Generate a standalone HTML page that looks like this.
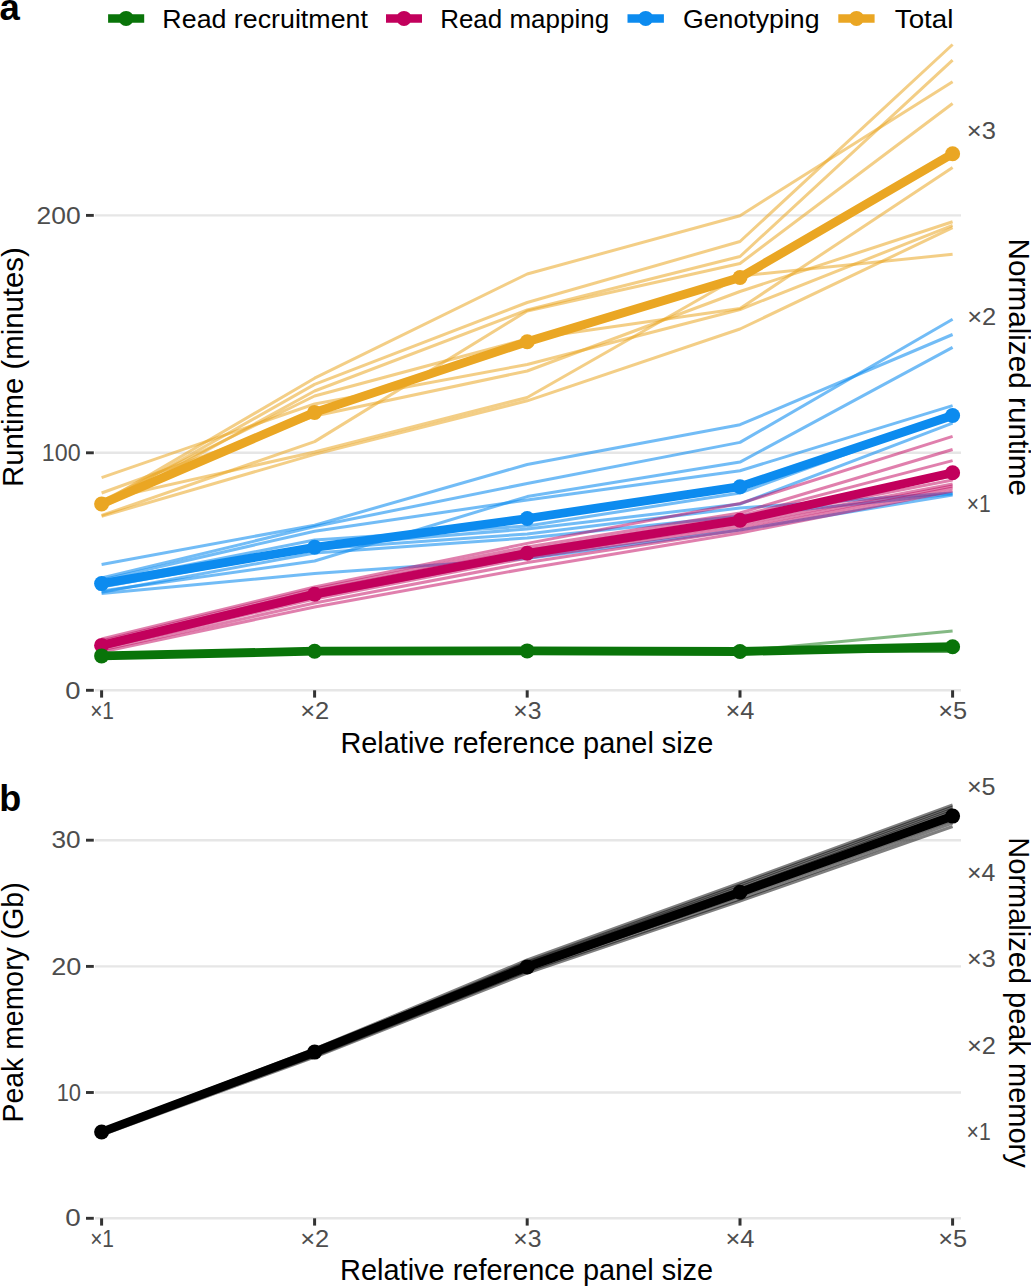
<!DOCTYPE html>
<html><head><meta charset="utf-8"><title>Runtime and memory</title>
<style>html,body{margin:0;padding:0;background:#fff;}svg{display:block;}text{font-family:"Liberation Sans",sans-serif;}</style>
</head><body>
<svg width="1031" height="1286" viewBox="0 0 1031 1286">
<rect width="1031" height="1286" fill="#FFFFFF"/>
<text x="-0.5" y="20.3" font-size="36.5" font-weight="bold" font-family="Liberation Sans, sans-serif">a</text>
<text x="-0.75" y="811.3" font-size="36" font-weight="bold" font-family="Liberation Sans, sans-serif">b</text>
<line x1="108.1" y1="18.4" x2="144.2" y2="18.4" stroke="#097409" stroke-width="8.5"/><circle cx="126.1" cy="18.4" r="7.5" fill="#097409"/><text x="162.39" y="27.60" font-size="26.5" fill="#000000" font-family="Liberation Sans, sans-serif" textLength="205.52" lengthAdjust="spacingAndGlyphs">Read recruitment</text>
<line x1="386.0" y1="18.4" x2="422.0" y2="18.4" stroke="#C2005C" stroke-width="8.5"/><circle cx="404.0" cy="18.4" r="7.5" fill="#C2005C"/><text x="440.16" y="27.60" font-size="26.5" fill="#000000" font-family="Liberation Sans, sans-serif" textLength="168.92" lengthAdjust="spacingAndGlyphs">Read mapping</text>
<line x1="627.5" y1="18.4" x2="663.9" y2="18.4" stroke="#0C8BEF" stroke-width="8.5"/><circle cx="645.7" cy="18.4" r="7.5" fill="#0C8BEF"/><text x="682.96" y="27.60" font-size="26.5" fill="#000000" font-family="Liberation Sans, sans-serif" textLength="136.60" lengthAdjust="spacingAndGlyphs">Genotyping</text>
<line x1="838.3" y1="18.4" x2="874.6" y2="18.4" stroke="#EAA623" stroke-width="8.5"/><circle cx="856.5" cy="18.4" r="7.5" fill="#EAA623"/><text x="894.78" y="27.60" font-size="26.5" fill="#000000" font-family="Liberation Sans, sans-serif" textLength="58.59" lengthAdjust="spacingAndGlyphs">Total</text>
<line x1="95" y1="215.4" x2="961" y2="215.4" stroke="#E6E6E6" stroke-width="2.4"/>
<line x1="86" y1="215.4" x2="93.8" y2="215.4" stroke="#333333" stroke-width="2.9"/>
<line x1="95" y1="452.8" x2="961" y2="452.8" stroke="#E6E6E6" stroke-width="2.4"/>
<line x1="86" y1="452.8" x2="93.8" y2="452.8" stroke="#333333" stroke-width="2.9"/>
<line x1="95" y1="690.3" x2="961" y2="690.3" stroke="#E6E6E6" stroke-width="2.4"/>
<line x1="86" y1="690.3" x2="93.8" y2="690.3" stroke="#333333" stroke-width="2.9"/>
<text x="36.48" y="223.70" fill="#4D4D4D" font-size="23.4" font-family="Liberation Sans, sans-serif" textLength="44.14" lengthAdjust="spacingAndGlyphs">200</text>
<text x="41.86" y="460.80" fill="#4D4D4D" font-size="23.4" font-family="Liberation Sans, sans-serif" textLength="38.73" lengthAdjust="spacingAndGlyphs">100</text>
<text x="65.30" y="698.50" fill="#4D4D4D" font-size="23.4" font-family="Liberation Sans, sans-serif" textLength="15.26" lengthAdjust="spacingAndGlyphs">0</text>
<line x1="101.6" y1="690.3" x2="101.6" y2="697.6" stroke="#333333" stroke-width="3"/><line x1="314.6" y1="690.3" x2="314.6" y2="697.6" stroke="#333333" stroke-width="3"/><line x1="527.2" y1="690.3" x2="527.2" y2="697.6" stroke="#333333" stroke-width="3"/><line x1="740.0" y1="690.3" x2="740.0" y2="697.6" stroke="#333333" stroke-width="3"/><line x1="952.6" y1="690.3" x2="952.6" y2="697.6" stroke="#333333" stroke-width="3"/>
<text x="90.13" y="719.40" fill="#4D4D4D" font-size="23.4" font-family="Liberation Sans, sans-serif" textLength="23.86" lengthAdjust="spacingAndGlyphs">×1</text><text x="300.22" y="719.40" fill="#4D4D4D" font-size="23.4" font-family="Liberation Sans, sans-serif" textLength="29.06" lengthAdjust="spacingAndGlyphs">×2</text><text x="513.27" y="719.40" fill="#4D4D4D" font-size="23.4" font-family="Liberation Sans, sans-serif" textLength="28.19" lengthAdjust="spacingAndGlyphs">×3</text><text x="725.42" y="719.40" fill="#4D4D4D" font-size="23.4" font-family="Liberation Sans, sans-serif" textLength="28.98" lengthAdjust="spacingAndGlyphs">×4</text><text x="938.23" y="719.40" fill="#4D4D4D" font-size="23.4" font-family="Liberation Sans, sans-serif" textLength="28.89" lengthAdjust="spacingAndGlyphs">×5</text>
<text x="340.41" y="752.90" font-size="29.2" fill="#000000" font-family="Liberation Sans, sans-serif" textLength="372.85" lengthAdjust="spacingAndGlyphs">Relative reference panel size</text>
<text transform="translate(23.30,487.02) rotate(-90)" x="0" y="0" font-size="29.2" fill="#000000" font-family="Liberation Sans, sans-serif" textLength="239.81" lengthAdjust="spacingAndGlyphs">Runtime (minutes)</text>
<text transform="translate(1009.20,238.55) rotate(90)" x="0" y="0" font-size="29.2" fill="#000000" font-family="Liberation Sans, sans-serif" textLength="257.48" lengthAdjust="spacingAndGlyphs">Normalized runtime</text>
<text x="966.82" y="138.50" fill="#4D4D4D" font-size="23.4" font-family="Liberation Sans, sans-serif" textLength="29.07" lengthAdjust="spacingAndGlyphs">×3</text>
<text x="967.22" y="325.20" fill="#4D4D4D" font-size="23.4" font-family="Liberation Sans, sans-serif" textLength="29.06" lengthAdjust="spacingAndGlyphs">×2</text>
<text x="966.63" y="512.00" fill="#4D4D4D" font-size="23.4" font-family="Liberation Sans, sans-serif" textLength="23.97" lengthAdjust="spacingAndGlyphs">×1</text>
<polyline points="101.6,503.0 314.6,378.2 527.2,274.0 740.0,215.7 952.6,81.8" fill="none" stroke="#EAA623" stroke-width="3.0" stroke-opacity="0.55" stroke-linejoin="round"/>
<polyline points="101.6,505.0 314.6,384.4 527.2,302.5 740.0,241.5 952.6,44.5" fill="none" stroke="#EAA623" stroke-width="3.0" stroke-opacity="0.55" stroke-linejoin="round"/>
<polyline points="101.6,508.0 314.6,391.0 527.2,310.0 740.0,256.5 952.6,60.1" fill="none" stroke="#EAA623" stroke-width="3.0" stroke-opacity="0.55" stroke-linejoin="round"/>
<polyline points="101.6,515.4 314.6,441.6 527.2,311.0 740.0,263.5 952.6,103.5" fill="none" stroke="#EAA623" stroke-width="3.0" stroke-opacity="0.55" stroke-linejoin="round"/>
<polyline points="101.6,500.0 314.6,452.0 527.2,397.5 740.0,276.0 952.6,254.3" fill="none" stroke="#EAA623" stroke-width="3.0" stroke-opacity="0.55" stroke-linejoin="round"/>
<polyline points="101.6,501.0 314.6,396.0 527.2,339.0 740.0,308.5 952.6,167.5" fill="none" stroke="#EAA623" stroke-width="3.0" stroke-opacity="0.55" stroke-linejoin="round"/>
<polyline points="101.6,493.0 314.6,416.0 527.2,371.0 740.0,291.5 952.6,221.7" fill="none" stroke="#EAA623" stroke-width="3.0" stroke-opacity="0.55" stroke-linejoin="round"/>
<polyline points="101.6,477.6 314.6,404.0 527.2,364.5 740.0,309.5 952.6,225.3" fill="none" stroke="#EAA623" stroke-width="3.0" stroke-opacity="0.55" stroke-linejoin="round"/>
<polyline points="101.6,516.3 314.6,454.4 527.2,400.8 740.0,329.0 952.6,227.7" fill="none" stroke="#EAA623" stroke-width="3.0" stroke-opacity="0.55" stroke-linejoin="round"/>
<polyline points="101.6,564.5 314.6,525.2 527.2,464.5 740.0,424.7 952.6,334.5" fill="none" stroke="#0C8BEF" stroke-width="3.0" stroke-opacity="0.58" stroke-linejoin="round"/>
<polyline points="101.6,578.0 314.6,526.5 527.2,483.5 740.0,442.4 952.6,319.3" fill="none" stroke="#0C8BEF" stroke-width="3.0" stroke-opacity="0.58" stroke-linejoin="round"/>
<polyline points="101.6,580.0 314.6,531.2 527.2,500.0 740.0,470.7 952.6,405.6" fill="none" stroke="#0C8BEF" stroke-width="3.0" stroke-opacity="0.58" stroke-linejoin="round"/>
<polyline points="101.6,591.0 314.6,561.0 527.2,496.6 740.0,462.1 952.6,347.4" fill="none" stroke="#0C8BEF" stroke-width="3.0" stroke-opacity="0.58" stroke-linejoin="round"/>
<polyline points="101.6,582.0 314.6,540.0 527.2,526.0 740.0,493.0 952.6,415.0" fill="none" stroke="#0C8BEF" stroke-width="3.0" stroke-opacity="0.58" stroke-linejoin="round"/>
<polyline points="101.6,584.0 314.6,546.0 527.2,529.0 740.0,504.0 952.6,423.2" fill="none" stroke="#0C8BEF" stroke-width="3.0" stroke-opacity="0.58" stroke-linejoin="round"/>
<polyline points="101.6,587.0 314.6,549.0 527.2,534.0 740.0,508.0 952.6,493.0" fill="none" stroke="#0C8BEF" stroke-width="3.0" stroke-opacity="0.58" stroke-linejoin="round"/>
<polyline points="101.6,592.3 314.6,553.0 527.2,538.0 740.0,516.0 952.6,494.0" fill="none" stroke="#0C8BEF" stroke-width="3.0" stroke-opacity="0.58" stroke-linejoin="round"/>
<polyline points="101.6,593.5 314.6,573.5 527.2,558.6 740.0,530.0 952.6,495.0" fill="none" stroke="#0C8BEF" stroke-width="3.0" stroke-opacity="0.58" stroke-linejoin="round"/>
<polyline points="101.6,639.0 314.6,587.0 527.2,543.4 740.0,503.5 952.6,436.4" fill="none" stroke="#C2005C" stroke-width="3.0" stroke-opacity="0.5" stroke-linejoin="round"/>
<polyline points="101.6,641.0 314.6,589.0 527.2,547.0 740.0,513.0 952.6,449.5" fill="none" stroke="#C2005C" stroke-width="3.0" stroke-opacity="0.5" stroke-linejoin="round"/>
<polyline points="101.6,643.0 314.6,591.0 527.2,550.0 740.0,516.0 952.6,460.6" fill="none" stroke="#C2005C" stroke-width="3.0" stroke-opacity="0.5" stroke-linejoin="round"/>
<polyline points="101.6,645.0 314.6,593.0 527.2,552.0 740.0,518.0 952.6,476.0" fill="none" stroke="#C2005C" stroke-width="3.0" stroke-opacity="0.5" stroke-linejoin="round"/>
<polyline points="101.6,646.0 314.6,595.0 527.2,554.0 740.0,521.0 952.6,480.0" fill="none" stroke="#C2005C" stroke-width="3.0" stroke-opacity="0.5" stroke-linejoin="round"/>
<polyline points="101.6,647.0 314.6,597.0 527.2,556.0 740.0,524.0 952.6,484.0" fill="none" stroke="#C2005C" stroke-width="3.0" stroke-opacity="0.5" stroke-linejoin="round"/>
<polyline points="101.6,648.0 314.6,599.0 527.2,558.0 740.0,527.0 952.6,486.0" fill="none" stroke="#C2005C" stroke-width="3.0" stroke-opacity="0.5" stroke-linejoin="round"/>
<polyline points="101.6,650.0 314.6,603.0 527.2,562.6 740.0,530.0 952.6,488.0" fill="none" stroke="#C2005C" stroke-width="3.0" stroke-opacity="0.5" stroke-linejoin="round"/>
<polyline points="101.6,652.0 314.6,607.0 527.2,568.4 740.0,533.0 952.6,491.0" fill="none" stroke="#C2005C" stroke-width="3.0" stroke-opacity="0.5" stroke-linejoin="round"/>
<polyline points="101.6,654.8 314.6,650.3 527.2,650.0 740.0,650.6 952.6,645.5" fill="none" stroke="#097409" stroke-width="3.0" stroke-opacity="0.5" stroke-linejoin="round"/>
<polyline points="101.6,655.3 314.6,650.8 527.2,650.5 740.0,651.0 952.6,646.5" fill="none" stroke="#097409" stroke-width="3.0" stroke-opacity="0.5" stroke-linejoin="round"/>
<polyline points="101.6,655.8 314.6,651.2 527.2,651.0 740.0,651.4 952.6,647.5" fill="none" stroke="#097409" stroke-width="3.0" stroke-opacity="0.5" stroke-linejoin="round"/>
<polyline points="101.6,656.3 314.6,651.6 527.2,651.3 740.0,651.8 952.6,648.5" fill="none" stroke="#097409" stroke-width="3.0" stroke-opacity="0.5" stroke-linejoin="round"/>
<polyline points="101.6,656.8 314.6,652.0 527.2,651.6 740.0,652.2 952.6,649.5" fill="none" stroke="#097409" stroke-width="3.0" stroke-opacity="0.5" stroke-linejoin="round"/>
<polyline points="101.6,655.6 314.6,651.0 527.2,650.7 740.0,651.2 952.6,650.5" fill="none" stroke="#097409" stroke-width="3.0" stroke-opacity="0.5" stroke-linejoin="round"/>
<polyline points="101.6,656.1 314.6,651.5 527.2,651.2 740.0,651.6 952.6,651.0" fill="none" stroke="#097409" stroke-width="3.0" stroke-opacity="0.5" stroke-linejoin="round"/>
<polyline points="101.6,655.0 314.6,650.6 527.2,650.4 740.0,651.4 952.6,651.5" fill="none" stroke="#097409" stroke-width="3.0" stroke-opacity="0.5" stroke-linejoin="round"/>
<polyline points="101.6,656.0 314.6,651.0 527.2,651.0 740.0,651.0 952.6,631.1" fill="none" stroke="#097409" stroke-width="3.0" stroke-opacity="0.5" stroke-linejoin="round"/>
<polyline points="101.6,504.0 314.6,412.4 527.2,341.7 740.0,277.5 952.6,153.8" fill="none" stroke="#EAA623" stroke-width="8.8" stroke-linejoin="round"/>
<circle cx="101.6" cy="504.0" r="7.5" fill="#EAA623"/>
<circle cx="314.6" cy="412.4" r="7.5" fill="#EAA623"/>
<circle cx="527.2" cy="341.7" r="7.5" fill="#EAA623"/>
<circle cx="740.0" cy="277.5" r="7.5" fill="#EAA623"/>
<circle cx="952.6" cy="153.8" r="7.5" fill="#EAA623"/>
<polyline points="101.6,583.6 314.6,547.3 527.2,518.5 740.0,486.7 952.6,415.5" fill="none" stroke="#0C8BEF" stroke-width="8.8" stroke-linejoin="round"/>
<circle cx="101.6" cy="583.6" r="7.5" fill="#0C8BEF"/>
<circle cx="314.6" cy="547.3" r="7.5" fill="#0C8BEF"/>
<circle cx="527.2" cy="518.5" r="7.5" fill="#0C8BEF"/>
<circle cx="740.0" cy="486.7" r="7.5" fill="#0C8BEF"/>
<circle cx="952.6" cy="415.5" r="7.5" fill="#0C8BEF"/>
<polyline points="101.6,645.4 314.6,594.2 527.2,553.3 740.0,520.2 952.6,472.7" fill="none" stroke="#C2005C" stroke-width="8.8" stroke-linejoin="round"/>
<circle cx="101.6" cy="645.4" r="7.5" fill="#C2005C"/>
<circle cx="314.6" cy="594.2" r="7.5" fill="#C2005C"/>
<circle cx="527.2" cy="553.3" r="7.5" fill="#C2005C"/>
<circle cx="740.0" cy="520.2" r="7.5" fill="#C2005C"/>
<circle cx="952.6" cy="472.7" r="7.5" fill="#C2005C"/>
<polyline points="101.6,655.9 314.6,651.2 527.2,650.9 740.0,651.5 952.6,646.7" fill="none" stroke="#097409" stroke-width="8.8" stroke-linejoin="round"/>
<circle cx="101.6" cy="655.9" r="7.5" fill="#097409"/>
<circle cx="314.6" cy="651.2" r="7.5" fill="#097409"/>
<circle cx="527.2" cy="650.9" r="7.5" fill="#097409"/>
<circle cx="740.0" cy="651.5" r="7.5" fill="#097409"/>
<circle cx="952.6" cy="646.7" r="7.5" fill="#097409"/>
<line x1="95" y1="840.2" x2="961" y2="840.2" stroke="#E6E6E6" stroke-width="2.4"/>
<line x1="86" y1="840.2" x2="93.8" y2="840.2" stroke="#333333" stroke-width="2.9"/>
<line x1="95" y1="966.4" x2="961" y2="966.4" stroke="#E6E6E6" stroke-width="2.4"/>
<line x1="86" y1="966.4" x2="93.8" y2="966.4" stroke="#333333" stroke-width="2.9"/>
<line x1="95" y1="1092.5" x2="961" y2="1092.5" stroke="#E6E6E6" stroke-width="2.4"/>
<line x1="86" y1="1092.5" x2="93.8" y2="1092.5" stroke="#333333" stroke-width="2.9"/>
<line x1="95" y1="1218.3" x2="961" y2="1218.3" stroke="#E6E6E6" stroke-width="2.4"/>
<line x1="86" y1="1218.3" x2="93.8" y2="1218.3" stroke="#333333" stroke-width="2.9"/>
<text x="51.42" y="848.40" fill="#4D4D4D" font-size="23.4" font-family="Liberation Sans, sans-serif" textLength="29.12" lengthAdjust="spacingAndGlyphs">30</text>
<text x="51.15" y="974.50" fill="#4D4D4D" font-size="23.4" font-family="Liberation Sans, sans-serif" textLength="30.13" lengthAdjust="spacingAndGlyphs">20</text>
<text x="56.65" y="1100.50" fill="#4D4D4D" font-size="23.4" font-family="Liberation Sans, sans-serif" textLength="24.42" lengthAdjust="spacingAndGlyphs">10</text>
<text x="65.29" y="1226.10" fill="#4D4D4D" font-size="23.4" font-family="Liberation Sans, sans-serif" textLength="15.49" lengthAdjust="spacingAndGlyphs">0</text>
<line x1="101.6" y1="1218.3" x2="101.6" y2="1225.6" stroke="#333333" stroke-width="3"/><line x1="314.6" y1="1218.3" x2="314.6" y2="1225.6" stroke="#333333" stroke-width="3"/><line x1="527.2" y1="1218.3" x2="527.2" y2="1225.6" stroke="#333333" stroke-width="3"/><line x1="740.0" y1="1218.3" x2="740.0" y2="1225.6" stroke="#333333" stroke-width="3"/><line x1="952.6" y1="1218.3" x2="952.6" y2="1225.6" stroke="#333333" stroke-width="3"/>
<text x="90.13" y="1246.80" fill="#4D4D4D" font-size="23.4" font-family="Liberation Sans, sans-serif" textLength="23.86" lengthAdjust="spacingAndGlyphs">×1</text><text x="300.22" y="1246.80" fill="#4D4D4D" font-size="23.4" font-family="Liberation Sans, sans-serif" textLength="29.06" lengthAdjust="spacingAndGlyphs">×2</text><text x="513.27" y="1246.80" fill="#4D4D4D" font-size="23.4" font-family="Liberation Sans, sans-serif" textLength="28.19" lengthAdjust="spacingAndGlyphs">×3</text><text x="725.42" y="1246.80" fill="#4D4D4D" font-size="23.4" font-family="Liberation Sans, sans-serif" textLength="28.98" lengthAdjust="spacingAndGlyphs">×4</text><text x="938.23" y="1246.80" fill="#4D4D4D" font-size="23.4" font-family="Liberation Sans, sans-serif" textLength="28.89" lengthAdjust="spacingAndGlyphs">×5</text>
<text x="340.11" y="1280.00" font-size="29.2" fill="#000000" font-family="Liberation Sans, sans-serif" textLength="373.06" lengthAdjust="spacingAndGlyphs">Relative reference panel size</text>
<text transform="translate(23.30,1122.55) rotate(-90)" x="0" y="0" font-size="29.2" fill="#000000" font-family="Liberation Sans, sans-serif" textLength="240.16" lengthAdjust="spacingAndGlyphs">Peak memory (Gb)</text>
<text transform="translate(1009.30,837.31) rotate(90)" x="0" y="0" font-size="29.2" fill="#000000" font-family="Liberation Sans, sans-serif" textLength="330.48" lengthAdjust="spacingAndGlyphs">Normalized peak memory</text>
<text x="966.94" y="795.00" fill="#4D4D4D" font-size="23.4" font-family="Liberation Sans, sans-serif" textLength="28.67" lengthAdjust="spacingAndGlyphs">×5</text>
<text x="966.96" y="881.20" fill="#4D4D4D" font-size="23.4" font-family="Liberation Sans, sans-serif" textLength="28.33" lengthAdjust="spacingAndGlyphs">×4</text>
<text x="966.94" y="967.40" fill="#4D4D4D" font-size="23.4" font-family="Liberation Sans, sans-serif" textLength="28.74" lengthAdjust="spacingAndGlyphs">×3</text>
<text x="966.92" y="1053.60" fill="#4D4D4D" font-size="23.4" font-family="Liberation Sans, sans-serif" textLength="28.95" lengthAdjust="spacingAndGlyphs">×2</text>
<text x="966.51" y="1139.80" fill="#4D4D4D" font-size="23.4" font-family="Liberation Sans, sans-serif" textLength="24.20" lengthAdjust="spacingAndGlyphs">×1</text>
<polyline points="101.6,1130.0 314.6,1049.0 527.2,960.0 740.0,883.0 952.6,805.0" fill="none" stroke="#000000" stroke-width="3.0" stroke-opacity="0.5" stroke-linejoin="round"/>
<polyline points="101.6,1131.0 314.6,1050.0 527.2,962.0 740.0,885.0 952.6,807.0" fill="none" stroke="#000000" stroke-width="3.0" stroke-opacity="0.5" stroke-linejoin="round"/>
<polyline points="101.6,1131.5 314.6,1051.0 527.2,963.0 740.0,887.0 952.6,809.0" fill="none" stroke="#000000" stroke-width="3.0" stroke-opacity="0.5" stroke-linejoin="round"/>
<polyline points="101.6,1132.0 314.6,1052.0 527.2,964.0 740.0,889.0 952.6,811.0" fill="none" stroke="#000000" stroke-width="3.0" stroke-opacity="0.5" stroke-linejoin="round"/>
<polyline points="101.6,1132.5 314.6,1053.0 527.2,966.0 740.0,891.0 952.6,814.0" fill="none" stroke="#000000" stroke-width="3.0" stroke-opacity="0.5" stroke-linejoin="round"/>
<polyline points="101.6,1133.0 314.6,1054.0 527.2,967.0 740.0,893.0 952.6,817.0" fill="none" stroke="#000000" stroke-width="3.0" stroke-opacity="0.5" stroke-linejoin="round"/>
<polyline points="101.6,1133.5 314.6,1055.0 527.2,969.0 740.0,896.0 952.6,820.0" fill="none" stroke="#000000" stroke-width="3.0" stroke-opacity="0.5" stroke-linejoin="round"/>
<polyline points="101.6,1134.0 314.6,1056.0 527.2,971.0 740.0,899.0 952.6,823.0" fill="none" stroke="#000000" stroke-width="3.0" stroke-opacity="0.5" stroke-linejoin="round"/>
<polyline points="101.6,1135.0 314.6,1057.0 527.2,973.0 740.0,901.0 952.6,826.5" fill="none" stroke="#000000" stroke-width="3.0" stroke-opacity="0.5" stroke-linejoin="round"/>
<polyline points="101.6,1132.0 314.6,1052.1 527.2,966.9 740.0,892.3 952.6,816.1" fill="none" stroke="#000000" stroke-width="8.8" stroke-linejoin="round"/>
<circle cx="101.6" cy="1132.0" r="7.5" fill="#000000"/>
<circle cx="314.6" cy="1052.1" r="7.5" fill="#000000"/>
<circle cx="527.2" cy="966.9" r="7.5" fill="#000000"/>
<circle cx="740.0" cy="892.3" r="7.5" fill="#000000"/>
<circle cx="952.6" cy="816.1" r="7.5" fill="#000000"/>
</svg>
</body></html>
